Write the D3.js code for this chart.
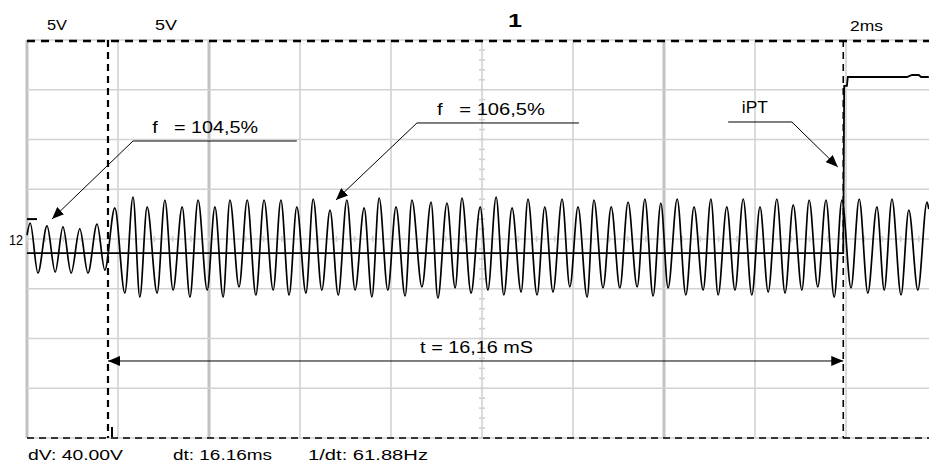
<!DOCTYPE html>
<html>
<head>
<meta charset="utf-8">
<title>Scope capture</title>
<style>
  body { margin: 0; background: #fff; }
  svg { display: block; font-family: "Liberation Sans", Arial, sans-serif; }
</style>
</head>
<body>
<div id="scope"></div>
<script src="https://cdn.jsdelivr.net/npm/d3@7/dist/d3.min.js"></script>
<script>

// channel 1 signal, extremes (time in ms, value in V)
let sigT = [0.00, 0.07, 0.24, 0.44, 0.62, 0.79, 0.97, 1.16, 1.34, 1.54, 1.71,
  1.93, 2.15, 2.33, 2.48, 2.64, 2.86, 3.03, 3.21, 3.41, 3.58, 3.76, 3.96, 4.13, 4.31,
  4.46, 4.66, 4.84, 5.03, 5.21, 5.41, 5.58, 5.76, 5.93, 6.13, 6.29, 6.48, 6.66, 6.84,
  7.03, 7.21, 7.41, 7.58, 7.74, 7.93, 8.11, 8.31, 8.46, 8.68, 8.88, 9.03, 9.23, 9.41,
  9.56, 9.76, 9.96, 10.13, 10.31, 10.48, 10.66, 10.86, 11.01, 11.21, 11.38, 11.56,
  11.76, 11.93, 12.11, 12.31, 12.46, 12.66, 12.84, 13.03, 13.21, 13.41, 13.58, 13.76,
  13.93, 14.09, 14.29, 14.48, 14.66, 14.86, 15.03, 15.19, 15.38, 15.56, 15.74, 15.93,
  16.11, 16.29, 16.48, 16.66, 16.84, 17.03, 17.19, 17.38, 17.56, 17.74, 17.91, 18.11,
  18.29, 18.48, 18.68, 18.84, 19.01, 19.21, 19.38, 19.58, 19.78, 19.82];
let sigV = [0.4, 1.61, -3.42, 1.31, -3.32, 1.21, -3.42, 1.01, -3.42, 1.51, -3.12,
  3.12, -5.43, 4.22, -5.83, 3.22, -5.43, 3.92, -5.13, 3.22, -5.83, 3.92, -5.13, 3.22, -5.83,
  3.92, -4.82, 3.92, -5.63, 3.92, -5.13, 3.92, -5.63, 3.22, -5.43, 4.02, -5.13, 2.91, -5.63,
  3.92, -5.13, 3.12, -5.83, 4.12, -5.13, 3.22, -5.73, 3.92, -4.82, 3.72, -5.93, 3.62, -4.92,
  4.12, -5.43, 3.22, -5.13, 4.22, -5.63, 3.12, -5.33, 4.02, -5.63, 3.22, -5.33,
  4.02, -4.82, 3.22, -5.83, 3.92, -4.92, 3.22, -4.92, 3.72, -4.82, 4.02, -5.73,
  3.62, -4.92, 4.02, -5.63, 3.22, -5.13, 4.02, -5.63, 3.22, -5.13, 4.02, -5.63,
  3.22, -5.33, 4.02, -5.43, 3.42, -5.13, 3.92, -4.82, 3.92, -5.83, 3.92, -4.92,
  4.02, -5.43, 3.22, -5.13, 4.02, -5.63, 2.91, -5.13, 3.72, 3.0];

// channel 2 (iPT) step
let iptT = [0, 17.94, 17.96, 18.02, 18.04, 19.34, 19.45, 19.6, 19.65, 19.82];
let iptV = [-1.41, -1.41, 15.38, 15.38, 16.28, 16.28, 16.48, 16.48, 16.28, 16.28];

// cursors (ms)
let cursorT = [1.78, 17.94];

// annotations: text, text anchor, leader points
let noteText = ['f   = 104,5%', 'f   = 106,5%', 'iPT'];
let noteAt = [[2.75, 10.65], [9.01, 12.46], [15.71, 12.66]];
let noteWidth = [106, 108, 26];
let noteLine = [
  [[5.93, 9.85], [2.33, 9.85], [0.55, 2.01]],
  [[12.13, 11.66], [8.57, 11.66], [6.79, 3.92]],
  [[15.41, 11.76], [16.81, 11.76], [17.82, 7.24]]
];
let spanLabel = 't = 16,16 mS';
let spanLevel = -12.26;

let topLabels = ['5V', '5V', '1', '2ms'];
let bottomLabels = ['dV: 40.00V', 'dt: 16.16ms', '1/dt: 61.88Hz'];

let svgWidth = 929, svgHeight = 466;
let plot = {left: 27, top: 40, right: 937, bottom: 438};

let svg = d3.select('#scope').append('svg')
  .attr('width', svgWidth)
  .attr('height', svgHeight);

svg.append('rect').attr('width', svgWidth).attr('height', svgHeight).attr('fill', '#fff');

let x = d3.scaleLinear().domain([0, 20]).range([plot.left, plot.right]);
let y = d3.scaleLinear().domain([-20, 20]).range([plot.bottom, plot.top]);

let defs = svg.append('defs');
defs.append('marker')
  .attr('id', 'head')
  .attr('markerUnits', 'userSpaceOnUse')
  .attr('viewBox', '0 0 12 10')
  .attr('refX', 12).attr('refY', 5)
  .attr('markerWidth', 12).attr('markerHeight', 10)
  .attr('orient', 'auto-start-reverse')
  .append('path')
    .attr('d', 'M0,0 L12,5 L0,10 Z')
    .attr('fill', '#000');

// grid
let thick = [0, 2, 7];
let grid = svg.append('g');
grid.selectAll('.vg')
  .data(x.ticks(10))
  .enter().append('line')
    .attr('x1', d => x(d)).attr('x2', d => x(d))
    .attr('y1', plot.top).attr('y2', plot.bottom)
    .attr('stroke', (d, i) => thick.includes(i) ? '#c2c2c2' : '#d2d2d2')
    .attr('stroke-width', (d, i) => thick.includes(i) ? 3 : 1.6);
grid.selectAll('.hg')
  .data(y.ticks(8))
  .enter().append('line')
    .attr('x1', plot.left).attr('x2', svgWidth)
    .attr('y1', d => y(d)).attr('y2', d => y(d))
    .attr('stroke', '#d2d2d2')
    .attr('stroke-width', 1.6);

// minor ticks on centre lines
grid.selectAll('.tx')
  .data(d3.range(0, 20, 0.4))
  .enter().append('line')
    .attr('x1', d => x(d)).attr('x2', d => x(d))
    .attr('y1', y(0) - 3).attr('y2', y(0) + 3)
    .attr('stroke', '#d2d2d2').attr('stroke-width', 1.6);
grid.selectAll('.ty')
  .data(d3.range(-20, 20, 1))
  .enter().append('line')
    .attr('x1', x(10) - 3).attr('x2', x(10) + 3)
    .attr('y1', d => y(d)).attr('y2', d => y(d))
    .attr('stroke', '#d2d2d2').attr('stroke-width', 1.6);

// traces
let line = d3.line().x(d => x(d[0])).y(d => y(d[1]));

svg.append('path')
  .datum(iptT.map((t, i) => [t, iptV[i]]))
  .attr('d', line)
  .attr('fill', 'none')
  .attr('stroke', '#000')
  .attr('stroke-width', 1.8);

svg.append('path')
  .datum(sigT.map((t, i) => [t, sigV[i]]))
  .attr('d', line.curve(d3.curveMonotoneX))
  .attr('fill', 'none')
  .attr('stroke', '#000')
  .attr('stroke-width', 1.7);

// channel level marker and label
svg.append('line')
  .attr('x1', plot.left).attr('x2', plot.left + 10)
  .attr('y1', y(2.0)).attr('y2', y(2.0))
  .attr('stroke', '#000').attr('stroke-width', 2);
svg.append('text')
  .attr('x', 9).attr('y', y(0) + 6)
  .attr('font-size', 14)
  .attr('fill', '#000')
  .attr('textLength', 14).attr('lengthAdjust', 'spacingAndGlyphs')
  .text('12');

// cursors
svg.append('line')
  .attr('x1', plot.left).attr('x2', svgWidth)
  .attr('y1', plot.top + 1).attr('y2', plot.top + 1)
  .attr('stroke', '#000').attr('stroke-width', 2.5)
  .attr('stroke-dasharray', '8,6');
svg.append('line')
  .attr('x1', plot.left).attr('x2', svgWidth)
  .attr('y1', plot.bottom).attr('y2', plot.bottom)
  .attr('stroke', '#000').attr('stroke-width', 1.5)
  .attr('stroke-dasharray', '7,5');
svg.selectAll('.cur')
  .data(cursorT)
  .enter().append('line')
    .attr('x1', d => x(d)).attr('x2', d => x(d))
    .attr('y1', plot.top).attr('y2', plot.bottom)
    .attr('stroke', '#000')
    .attr('stroke-width', (d, i) => i === 0 ? 2.2 : 1.6)
    .attr('stroke-dasharray', '7,5');
svg.append('line')
  .attr('x1', x(cursorT[0]) + 4).attr('x2', x(cursorT[0]) + 4)
  .attr('y1', plot.bottom - 11).attr('y2', plot.bottom - 1)
  .attr('stroke', '#000').attr('stroke-width', 2);

// annotations
let ann = svg.append('g');
ann.selectAll('.lead')
  .data(noteLine)
  .enter().append('path')
    .attr('d', d3.line().x(d => x(d[0])).y(d => y(d[1])))
    .attr('fill', 'none')
    .attr('stroke', '#000')
    .attr('stroke-width', 1)
    .attr('marker-end', 'url(#head)');
ann.selectAll('.note')
  .data(noteText)
  .enter().append('text')
    .attr('x', (d, i) => x(noteAt[i][0]))
    .attr('y', (d, i) => y(noteAt[i][1]))
    .attr('font-size', 16)
    .attr('textLength', (d, i) => noteWidth[i])
    .attr('lengthAdjust', 'spacingAndGlyphs')
    .style('white-space', 'pre')
    .text(d => d);

ann.append('line')
  .attr('x1', x(cursorT[0])).attr('x2', x(cursorT[1]))
  .attr('y1', y(spanLevel)).attr('y2', y(spanLevel))
  .attr('stroke', '#000').attr('stroke-width', 1)
  .attr('marker-start', 'url(#head)')
  .attr('marker-end', 'url(#head)');
ann.append('text')
  .attr('x', x(8.64)).attr('y', y(-11.46))
  .attr('font-size', 16)
  .attr('textLength', 113).attr('lengthAdjust', 'spacingAndGlyphs')
  .text(spanLabel);

// header / footer readouts
let topX = [47, 155, 508, 850];
let topW = [20, 22, 14, 33];
svg.selectAll('.top')
  .data(topLabels)
  .enter().append('text')
    .attr('x', (d, i) => topX[i])
    .attr('y', (d, i) => i === 3 ? 31 : (i === 2 ? 27 : 30))
    .attr('font-size', (d, i) => i === 2 ? 18 : 15)
    .attr('font-weight', (d, i) => i === 2 ? 'bold' : 'normal')
    .attr('textLength', (d, i) => topW[i])
    .attr('lengthAdjust', 'spacingAndGlyphs')
    .text(d => d);

let botX = [28, 173, 308];
let botW = [95, 99, 120];
svg.selectAll('.bot')
  .data(bottomLabels)
  .enter().append('text')
    .attr('x', (d, i) => botX[i])
    .attr('y', 460)
    .attr('font-size', 14)
    .attr('textLength', (d, i) => botW[i])
    .attr('lengthAdjust', 'spacingAndGlyphs')
    .text(d => d);

</script>
</body>
</html>
